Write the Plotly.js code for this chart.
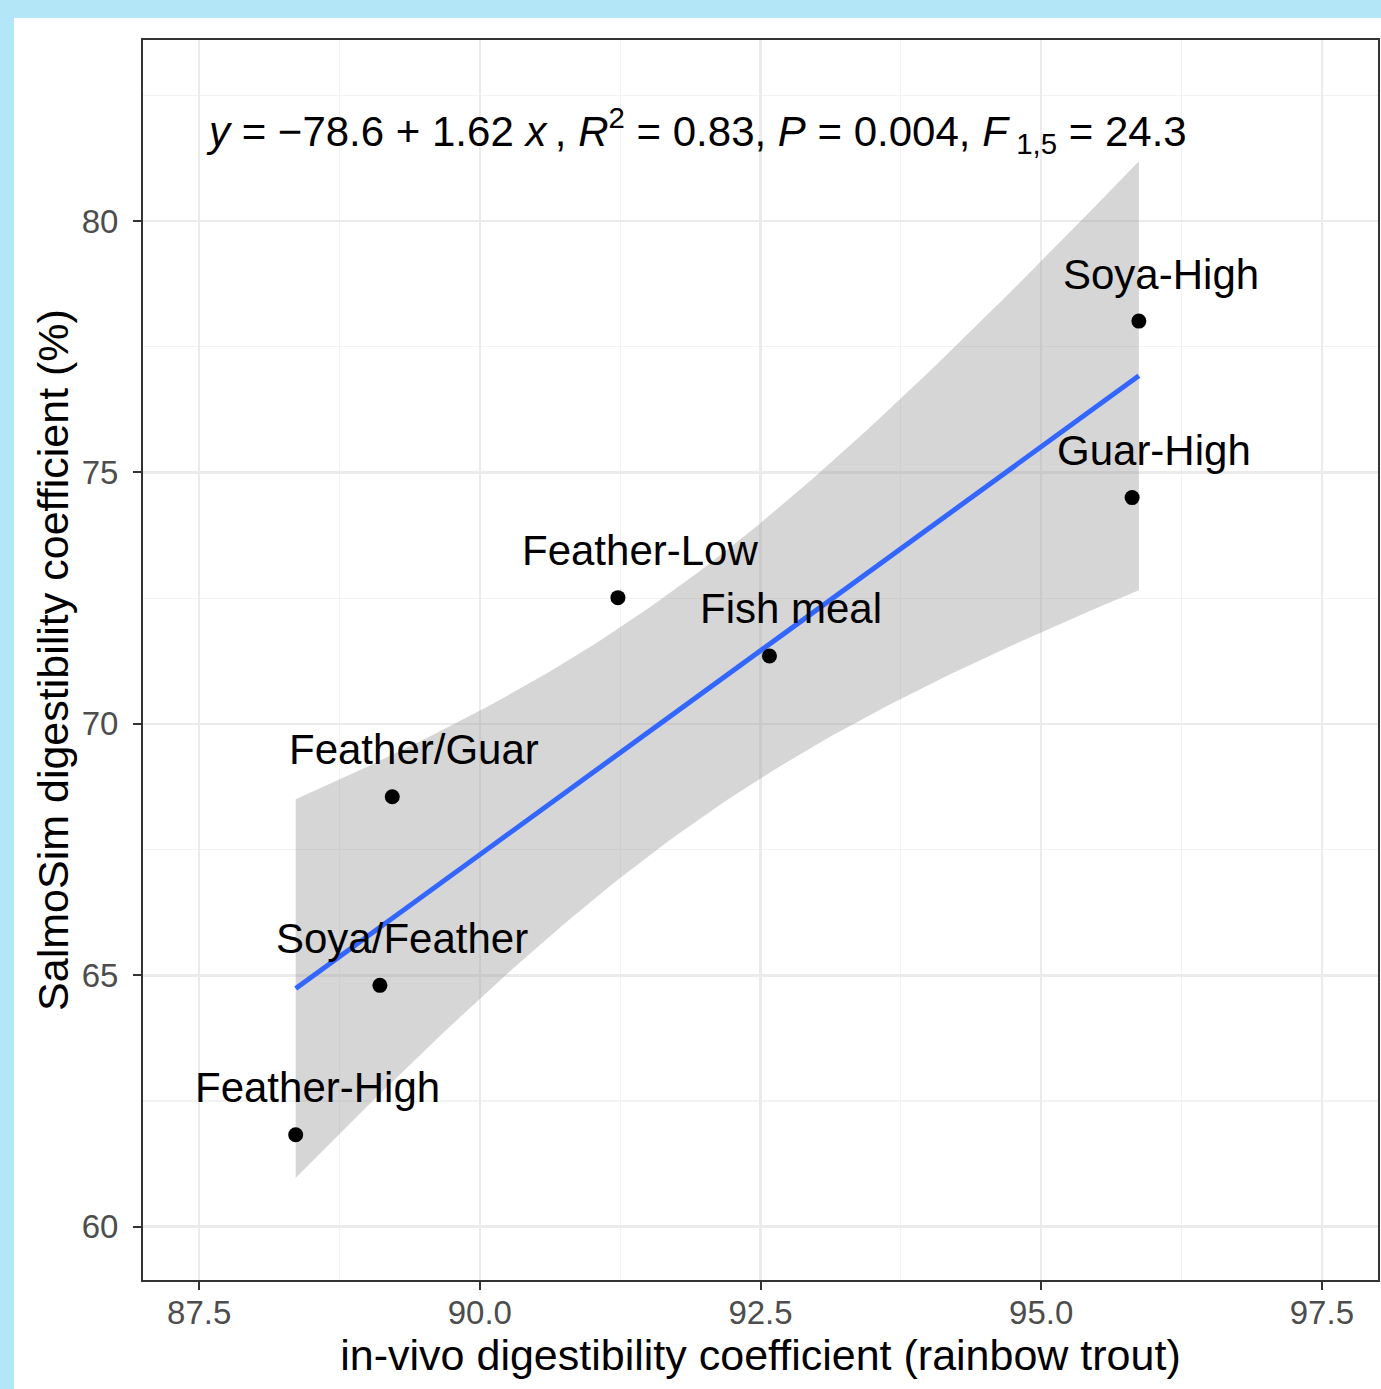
<!DOCTYPE html>
<html>
<head>
<meta charset="utf-8">
<script src="https://cdn.plot.ly/plotly-3.0.1.min.js"></script>
<style>
html,body{margin:0;padding:0;background:#b3e6f7;width:1381px;height:1389px;overflow:hidden;}
#chart{position:absolute;left:14px;top:18px;width:1367px;height:1371px;background:#fff;}
</style>
</head>
<body>
<div id="chart"></div>
<script>
// ---- data ----
const diets = ["Soya-High","Guar-High","Feather-Low","Fish meal","Feather/Guar","Soya/Feather","Feather-High"];
const invivo = [95.87, 95.81, 91.23, 92.58, 89.22, 89.11, 88.36];
const salmosim = [78.01, 74.50, 72.51, 71.35, 68.55, 64.80, 61.83];
const xTicks = [87.5, 90.0, 92.5, 95.0, 97.5];
const xTickLabels = ["87.5","90.0","92.5","95.0","97.5"];
const yTicks = [60, 65, 70, 75, 80];
const yTickLabels = ["60","65","70","75","80"];
const equationText = "<i>y</i> = \u221278.6 + 1.62 <i>x</i>\u2009, <i>R</i><sup>2</sup> = 0.83, <i>P</i> = 0.004, <i>F</i>\u2009<sub>1,5</sub> = 24.3";

// ---- linear fit with 95% confidence band ----
const n = invivo.length;
const xbar = invivo.reduce((a,b)=>a+b,0)/n;
const ybar = salmosim.reduce((a,b)=>a+b,0)/n;
let sxx=0, sxy=0;
for(let i=0;i<n;i++){sxx+=(invivo[i]-xbar)**2; sxy+=(invivo[i]-xbar)*(salmosim[i]-ybar);}
const b1 = sxy/sxx, b0 = ybar - b1*xbar;
let sse=0;
for(let i=0;i<n;i++){sse+=(salmosim[i]-(b0+b1*invivo[i]))**2;}
const s = Math.sqrt(sse/(n-2));
const tq = 2.570582; // t(0.975, df=5)
const xmin = Math.min(...invivo), xmax = Math.max(...invivo);
const fx=[], fy=[], up=[], lo=[];
const steps = 80;
for(let k=0;k<=steps;k++){
  const x = xmin + (xmax-xmin)*k/steps;
  const yh = b0 + b1*x;
  const se = s*Math.sqrt(1/n + (x-xbar)**2/sxx);
  fx.push(x); fy.push(yh); up.push(yh+tq*se); lo.push(yh-tq*se);
}

const FONT = 'Liberation Sans, Arial, sans-serif';

const traces = [
  {x: fx, y: lo, mode:'lines', line:{width:0}, hoverinfo:'skip', showlegend:false},
  {x: fx, y: up, mode:'lines', line:{width:0}, fill:'tonexty', fillcolor:'rgba(153,153,153,0.4)', hoverinfo:'skip', showlegend:false},
  {x: fx, y: fy, mode:'lines', line:{color:'#3366FF', width:5}, showlegend:false},
  {x: invivo, y: salmosim, mode:'markers', marker:{color:'#000', size:15}, showlegend:false}
];

const annotations = diets.map((d,i)=>({
  x: invivo[i], y: salmosim[i], text: d, showarrow:false,
  xshift: 22, yshift: 47, xanchor:'center', yanchor:'middle',
  font:{family:FONT, size:42, color:'#000'}
}));
annotations.push({
  xref:'x', yref:'y', x: 87.545, y: 81.8, text: equationText, showarrow:false,
  xanchor:'left', yanchor:'middle',
  font:{family:FONT, size:42, color:'#000'}
});

const axisCommon = {
  showline:true, linecolor:'#333333', linewidth:2, mirror:true,
  ticks:'outside', ticklen:8, tickwidth:2, tickcolor:'#333333',
  showgrid:true, gridcolor:'#ebebeb', gridwidth:2.5,
  zeroline:false,
  tickfont:{family:FONT, size:33, color:'#4d4d4d'},
  tickmode:'array'
};

const layout = {
  width:1367, height:1371,
  margin:{l:129, r:3, t:22, b:109},
  paper_bgcolor:'#ffffff', plot_bgcolor:'#ffffff',
  showlegend:false, hovermode:false,
  xaxis: Object.assign({}, axisCommon, {
    range:[87.0, 98.0], tickvals:xTicks, ticktext:xTickLabels,
    ticklabelstandoff: -6,
    minor:{tickvals:[88.75,91.25,93.75,96.25], showgrid:true, gridcolor:'#f2f2f2', gridwidth:1.2, ticks:''},
    title:{text:'in-vivo digestibility coefficient (rainbow trout)', standoff:4,
      font:{family:FONT, size:43, color:'#000'}}
  }),
  yaxis: Object.assign({}, axisCommon, {
    range:[58.94, 83.6], tickvals:yTicks, ticktext:yTickLabels,
    ticklabelstandoff: 8,
    minor:{tickvals:[62.5,67.5,72.5,77.5,82.5], showgrid:true, gridcolor:'#f2f2f2', gridwidth:1.2, ticks:''},
    title:{text:'SalmoSim digestibility coefficient (%)', standoff:0,
      font:{family:FONT, size:43, color:'#000'}}
  }),
  annotations: annotations
};

Plotly.newPlot('chart', traces, layout, {staticPlot:true, displayModeBar:false});
</script>
</body>
</html>
